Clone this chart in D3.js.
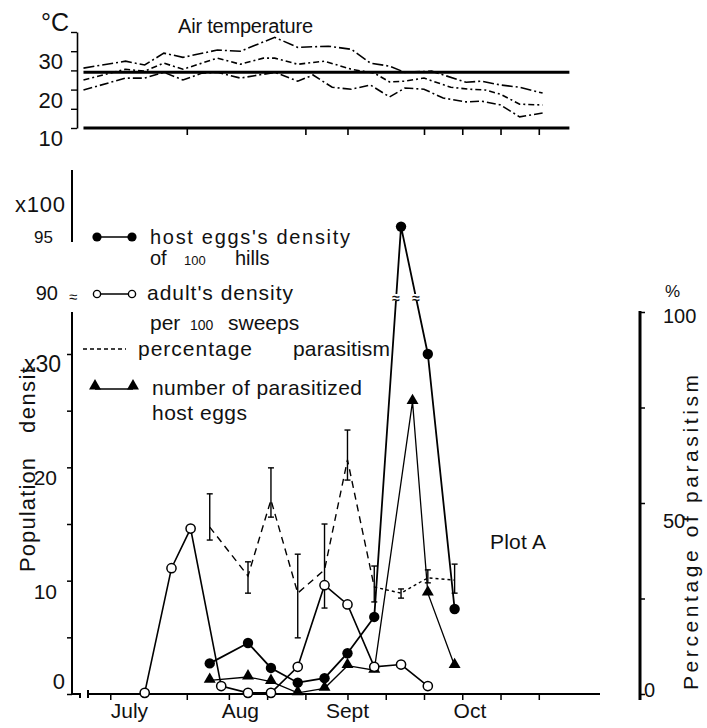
<!DOCTYPE html>
<html lang="en">
  <head>
    <meta charset="utf-8">
    <script src="https://cdn.jsdelivr.net/npm/d3@7"></script>
    <style>
      body { margin: 0; background: #fff; }
      svg text { font-family: "Liberation Sans", Arial, sans-serif; fill: #111; }
    </style>
  </head>
  <body>
    <svg id="chart" width="707" height="728"></svg>
    <script>

      var parse = d3.timeParse("%m-%d");

      // air temperature, top panel (max / mean / min)
      var maxDates = ["06-24","07-05","07-10","07-15","07-20","07-29","08-04","08-13","08-19","08-27","09-02","09-07","09-12","09-16","09-23","10-02","10-06","10-11","10-16","10-22"];
      var maxTemp = [25.6,27.4,26.4,29.5,28.4,30.3,30.0,33.6,31.0,31.3,30.5,26.9,26.1,24.5,24.8,21.9,22.2,21.2,20.6,19.1];
      var meanDates = ["06-24","07-05","07-10","07-15","07-20","07-29","08-04","08-10","08-13","08-19","08-26","09-02","09-08","09-12","09-16","09-21","09-28","10-03","10-07","10-11","10-16","10-22"];
      var meanTemp = [22.5,25.3,24.8,26.9,25.3,28.2,26.6,28.2,28.2,26.6,27.4,25.3,24.3,22.0,22.2,23.0,20.6,20.1,19.9,18.8,16.2,16.0];
      var minDates = ["06-24","07-05","07-10","07-15","07-20","07-25","07-29","08-04","08-13","08-19","08-23","08-28","09-02","09-07","09-12","09-16","09-21","09-26","10-02","10-06","10-11","10-16","10-22"];
      var minTemp = [19.9,23.0,23.0,24.5,22.5,24.3,24.5,23.0,24.5,22.2,23.8,20.6,20.1,21.2,18.1,20.4,20.1,17.8,16.8,17.0,16.0,12.9,13.9];
      var refTemp = 24.5;

      // population densities, main panel
      var adultDates = ["07-10","07-17","07-22","07-30","08-06","08-12","08-19","08-26","09-01","09-08","09-15","09-22"];
      var adults = [0.1,11.1,14.6,0.7,0.1,0.1,2.4,9.6,7.9,2.4,2.6,0.7];
      var hostDates = ["07-27","08-06","08-12","08-19","08-26","09-01","09-08","09-15","09-22","09-29"];
      var hostEggs = [2.7,4.5,2.3,1.0,1.4,3.6,6.8,95.3,30.0,7.5];
      var paraDates = ["07-27","08-06","08-12","08-19","08-26","09-01","09-08","09-18","09-22","09-29"];
      var parasitized = [1.2,1.5,1.1,0.1,0.5,2.5,2.1,25.8,8.9,2.5];

      // percentage parasitism with range bars
      var pctDates = ["07-27","08-06","08-12","08-19","08-26","09-01","09-08","09-15","09-22","09-29"];
      var pct = [43.7,30.9,50.8,26.4,32.5,61.3,28.0,26.4,30.4,29.8];
      var pctLow = [40.3,26.4,46.3,14.7,22.5,56.0,24.1,25.1,29.1,26.4];
      var pctHigh = [52.4,34.6,59.2,36.6,44.5,69.1,33.5,27.5,32.5,34.0];

      // axes
      var xTicks = ["07-01","07-21","08-01","08-11","08-21","09-01","09-11","09-21","10-01","10-11","10-21"];
      var topTicks = ["07-21","08-21","09-01","09-21","10-01","10-11","10-21"];
      var months = ["July","Aug","Sept","Oct"];
      var monthAt = ["07-06","08-04","09-01","10-03"];
      var tempTicks = [10,15,20,25,30,35];
      var tempLabels = [30,20,10];
      var yTicks = [0,5,10,15,20,25,30];
      var yLabelValues = [10,20,30];
      var yLabels = ["10","20","x30"];
      var hiLabelValues = [95,90];
      var pctTicks = [0,25,50,75,100];
      var pctLabels = [100,50];

      var svg = d3.select("#chart");

      var x = d3.scaleTime()
        .domain([parse("06-21"), parse("11-06")])
        .range([72, 600]);
      var yT = d3.scaleLinear().domain([10, 35]).range([128, 32]);
      var y = d3.scaleLinear().domain([0, 30]).range([694, 354]);
      var yHi = d3.scaleLinear().domain([90, 100]).range([287, 173]);
      var yP = d3.scaleLinear().domain([0, 100]).range([694, 312]);

      function yy(v) { return v > 60 ? yHi(v) : y(v); }

      function zip(dates, vals) {
        return dates.map(function(d, i) { return {date: parse(d), v: vals[i]}; });
      }

      // ---------- top panel: air temperature ----------
      var tp = svg.append("g");

      tp.append("g")
        .attr("transform", "translate(77,0)")
        .call(d3.axisLeft(yT).tickValues(tempTicks).tickSize(6).tickSizeOuter(0).tickFormat(""))
        .call(function(g) {
          g.select(".domain").attr("stroke-width", 1.6);
          g.selectAll(".tick line").attr("stroke-width", 1.4);
        });

      tp.selectAll("text.tlab")
        .data(tempLabels)
        .enter().append("text")
          .attr("class", "tlab")
          .attr("x", 63)
          .attr("y", function(d) { return yT(d) + 18; })
          .attr("text-anchor", "end")
          .style("font-size", "22px")
          .text(function(d) { return d; });

      tp.append("text")
        .attr("x", 41).attr("y", 31)
        .style("font-size", "25px")
        .text("°C");

      tp.append("text")
        .attr("x", 178).attr("y", 33)
        .attr("textLength", 135)
        .style("font-size", "20px")
        .text("Air temperature");

      tp.append("g")
        .attr("transform", "translate(0," + yT(10) + ")")
        .call(d3.axisBottom(x).tickValues(topTicks.map(parse)).tickSize(7).tickFormat(""))
        .call(function(g) {
          g.select(".domain").remove();
          g.selectAll(".tick line").attr("stroke-width", 1.6);
        });

      tp.append("line")
        .attr("x1", x(parse("06-24"))).attr("x2", x(parse("10-29")))
        .attr("y1", yT(10)).attr("y2", yT(10))
        .attr("stroke", "#000").attr("stroke-width", 3);

      tp.append("line")
        .attr("x1", x(parse("06-24"))).attr("x2", x(parse("10-29")))
        .attr("y1", yT(refTemp)).attr("y2", yT(refTemp))
        .attr("stroke", "#000").attr("stroke-width", 3);

      var tline = d3.line()
        .x(function(d) { return x(d.date); })
        .y(function(d) { return yT(d.v); });

      [
        {data: zip(maxDates, maxTemp), dash: "11,3,2,3"},
        {data: zip(meanDates, meanTemp), dash: "6,3,2,3"},
        {data: zip(minDates, minTemp), dash: "9,3,2,3"}
      ].forEach(function(s) {
        tp.append("path")
          .datum(s.data)
          .attr("d", tline)
          .attr("fill", "none")
          .attr("stroke", "#000")
          .attr("stroke-width", 1.6)
          .attr("stroke-dasharray", s.dash);
      });

      // ---------- main panel ----------
      var main = svg.append("g");

      // left axis, broken
      main.append("line")
        .attr("x1", 72).attr("x2", 72).attr("y1", 312).attr("y2", 694)
        .attr("stroke", "#000").attr("stroke-width", 2);
      main.append("line")
        .attr("x1", 72).attr("x2", 72).attr("y1", 170).attr("y2", 242)
        .attr("stroke", "#000").attr("stroke-width", 2);
      main.append("text")
        .attr("x", 73).attr("y", 302)
        .attr("text-anchor", "middle")
        .style("font-size", "15px")
        .text("≈");

      main.append("g")
        .attr("transform", "translate(72,0)")
        .call(d3.axisLeft(y).tickValues(yTicks).tickSize(5).tickFormat(""))
        .call(function(g) {
          g.select(".domain").remove();
          g.selectAll(".tick line").attr("stroke-width", 1.5);
        });

      main.append("text")
        .attr("x", 65).attr("y", 689)
        .attr("text-anchor", "end")
        .style("font-size", "22px")
        .text("0");

      main.selectAll("text.ylab")
        .data(yLabelValues)
        .enter().append("text")
          .attr("class", "ylab")
          .attr("x", function(d, i) { return i == 2 ? 61 : 57; })
          .attr("y", function(d) { return y(d) + 18; })
          .attr("text-anchor", "end")
          .style("font-size", function(d, i) { return i == 2 ? "23px" : "21px"; })
          .text(function(d, i) { return yLabels[i]; });

      main.append("text")
        .attr("x", 15).attr("y", 212)
        .attr("textLength", 50)
        .style("font-size", "22px")
        .text("x100");

      main.selectAll("text.hlab")
        .data(hiLabelValues)
        .enter().append("text")
          .attr("class", "hlab")
          .attr("x", function(d) { return d == 95 ? 53 : 58; })
          .attr("y", function(d) { return yHi(d) + 13; })
          .attr("text-anchor", "end")
          .style("font-size", function(d) { return d == 95 ? "17px" : "20px"; })
          .text(function(d) { return d; });

      main.append("text")
        .attr("transform", "translate(35,572) rotate(-90)")
        .attr("textLength", 114)
        .style("font-size", "22px")
        .text("Population");
      main.append("text")
        .attr("transform", "translate(35,433) rotate(-90)")
        .attr("textLength", 66)
        .style("font-size", "22px")
        .text("densit");

      // bottom axis with a small break near the origin
      main.append("path")
        .attr("d", "M72,694H80V698M88,690V698M88,694H600")
        .attr("fill", "none")
        .attr("stroke", "#000").attr("stroke-width", 2);

      main.append("g")
        .attr("transform", "translate(0,694)")
        .call(d3.axisBottom(x).tickValues(xTicks.map(parse)).tickSize(6).tickFormat(""))
        .call(function(g) {
          g.select(".domain").remove();
          g.selectAll(".tick line").attr("stroke-width", 1.5);
        });

      main.selectAll("text.month")
        .data(months)
        .enter().append("text")
          .attr("class", "month")
          .attr("x", function(d, i) { return x(parse(monthAt[i])); })
          .attr("y", 718)
          .attr("text-anchor", "middle")
          .style("font-size", "21px")
          .text(function(d) { return d; });

      // right axis: percentage
      main.append("line")
        .attr("x1", 640).attr("x2", 640).attr("y1", 311).attr("y2", 700)
        .attr("stroke", "#000").attr("stroke-width", 3);
      main.append("g")
        .attr("transform", "translate(640,0)")
        .call(d3.axisRight(yP).tickValues(pctTicks).tickSize(5).tickFormat(""))
        .call(function(g) {
          g.select(".domain").remove();
          g.selectAll(".tick line").attr("stroke-width", 1.5);
        });
      main.selectAll("text.plab")
        .data(pctLabels)
        .enter().append("text")
          .attr("class", "plab")
          .attr("x", 663)
          .attr("y", function(d) { return yP(d) + (d == 100 ? 11 : 25); })
          .style("font-size", "20px")
          .text(function(d) { return d; });
      main.append("text")
        .attr("x", 644).attr("y", 697)
        .style("font-size", "20px")
        .text("0");
      main.append("text")
        .attr("x", 665).attr("y", 297)
        .style("font-size", "17px")
        .text("%");
      main.append("text")
        .attr("transform", "translate(698,690) rotate(-90)")
        .attr("textLength", 315)
        .style("font-size", "21px")
        .text("Percentage of parasitism");

      main.append("text")
        .attr("x", 490).attr("y", 549)
        .attr("textLength", 56)
        .style("font-size", "21px")
        .text("Plot A");

      // percentage parasitism: dashed line + range bars
      var pctData = pctDates.map(function(d, i) {
        return {date: parse(d), v: pct[i], lo: pctLow[i], hi: pctHigh[i]};
      });
      var pline = d3.line()
        .x(function(d) { return x(d.date); })
        .y(function(d) { return yP(d.v); });

      main.append("path")
        .datum(pctData.slice(0, 7))
        .attr("d", pline)
        .attr("fill", "none").attr("stroke", "#000")
        .attr("stroke-width", 1.4).attr("stroke-dasharray", "7,5");
      main.append("path")
        .datum(pctData.slice(6))
        .attr("d", pline)
        .attr("fill", "none").attr("stroke", "#000")
        .attr("stroke-width", 1.4).attr("stroke-dasharray", "3,3");

      var bars = main.selectAll("g.bar")
        .data(pctData)
        .enter().append("g")
          .attr("class", "bar")
          .attr("stroke", "#000")
          .attr("stroke-width", 1.4);
      bars.append("line")
        .attr("x1", function(d) { return x(d.date); })
        .attr("x2", function(d) { return x(d.date); })
        .attr("y1", function(d) { return yP(d.lo); })
        .attr("y2", function(d) { return yP(d.hi); });
      bars.append("line")
        .attr("x1", function(d) { return x(d.date) - 3; })
        .attr("x2", function(d) { return x(d.date) + 3; })
        .attr("y1", function(d) { return yP(d.lo); })
        .attr("y2", function(d) { return yP(d.lo); });
      bars.append("line")
        .attr("x1", function(d) { return x(d.date) - 3; })
        .attr("x2", function(d) { return x(d.date) + 3; })
        .attr("y1", function(d) { return yP(d.hi); })
        .attr("y2", function(d) { return yP(d.hi); });

      // series lines
      var line = d3.line()
        .x(function(d) { return x(d.date); })
        .y(function(d) { return yy(d.v); });

      var adultData = zip(adultDates, adults),
          hostData = zip(hostDates, hostEggs),
          paraData = zip(paraDates, parasitized);

      main.append("path").datum(paraData).attr("d", line)
        .attr("fill", "none").attr("stroke", "#000").attr("stroke-width", 1.3);
      main.append("path").datum(adultData).attr("d", line)
        .attr("fill", "none").attr("stroke", "#000").attr("stroke-width", 1.6);
      main.append("path").datum(hostData).attr("d", line)
        .attr("fill", "none").attr("stroke", "#000").attr("stroke-width", 1.8);

      // break marks where the host-egg line crosses the axis gap
      var breakY = 298;
      hostData.forEach(function(d, i) {
        var n = hostData[i + 1];
        if (!n) return;
        var y0 = yy(d.v), y1 = yy(n.v);
        if ((y0 - breakY) * (y1 - breakY) < 0 && (d.v > 60 || n.v > 60)) {
          var t = (breakY - y0) / (y1 - y0),
              bx = x(d.date) + t * (x(n.date) - x(d.date));
          main.append("rect")
            .attr("x", bx - 5).attr("y", breakY - 4)
            .attr("width", 10).attr("height", 7)
            .attr("fill", "#fff");
          main.append("text")
            .attr("x", bx).attr("y", breakY + 5)
            .attr("text-anchor", "middle")
            .style("font-size", "14px")
            .style("font-weight", "bold")
            .text("≈");
        }
      });

      var tri = d3.symbol().type(d3.symbolTriangle).size(62);

      main.selectAll("path.tri")
        .data(paraData)
        .enter().append("path")
          .attr("class", "tri")
          .attr("d", tri)
          .attr("transform", function(d) { return "translate(" + x(d.date) + "," + (yy(d.v) - 1) + ")"; })
          .attr("fill", "#000");

      main.selectAll("circle.adult")
        .data(adultData)
        .enter().append("circle")
          .attr("class", "adult")
          .attr("cx", function(d) { return x(d.date); })
          .attr("cy", function(d) { return yy(d.v); })
          .attr("r", 4.6)
          .attr("fill", "#fff")
          .attr("stroke", "#000")
          .attr("stroke-width", 1.5);

      main.selectAll("circle.host")
        .data(hostData)
        .enter().append("circle")
          .attr("class", "host")
          .attr("cx", function(d) { return x(d.date); })
          .attr("cy", function(d) { return yy(d.v); })
          .attr("r", 5.2)
          .attr("fill", "#000");

      // ---------- legend ----------
      var lg = svg.append("g").attr("class", "legend");

      lg.append("line").attr("x1", 97).attr("x2", 132).attr("y1", 237).attr("y2", 237)
        .attr("stroke", "#000").attr("stroke-width", 1.6);
      lg.selectAll("circle.lh").data([97, 132]).enter().append("circle")
        .attr("cx", function(d) { return d; }).attr("cy", 237).attr("r", 4.6).attr("fill", "#000");
      lg.append("text").attr("x", 150).attr("y", 244).attr("textLength", 200)
        .style("font-size", "20px").text("host eggs's density");
      var l2 = lg.append("text").attr("y", 265).style("font-size", "20px");
      l2.append("tspan").attr("x", 150).text("of");
      l2.append("tspan").attr("x", 184).style("font-size", "13px").text("100");
      l2.append("tspan").attr("x", 235).text("hills");

      lg.append("line").attr("x1", 97).attr("x2", 132).attr("y1", 294).attr("y2", 294)
        .attr("stroke", "#000").attr("stroke-width", 1.4);
      lg.selectAll("circle.la").data([97, 132]).enter().append("circle")
        .attr("cx", function(d) { return d; }).attr("cy", 294).attr("r", 3.6)
        .attr("fill", "#fff").attr("stroke", "#000").attr("stroke-width", 1.4);
      lg.append("text").attr("x", 147).attr("y", 300).attr("textLength", 146)
        .style("font-size", "21px").text("adult's density");
      var l4 = lg.append("text").attr("y", 330).style("font-size", "21px");
      l4.append("tspan").attr("x", 150).text("per");
      l4.append("tspan").attr("x", 190).style("font-size", "14px").text("100");
      l4.append("tspan").attr("x", 228).text("sweeps");

      lg.append("line").attr("x1", 83).attr("x2", 126).attr("y1", 349).attr("y2", 349)
        .attr("stroke", "#000").attr("stroke-width", 1.4).attr("stroke-dasharray", "4,3");
      lg.append("text").attr("x", 138).attr("y", 356).attr("textLength", 114)
        .style("font-size", "21px").text("percentage");
      lg.append("text").attr("x", 293).attr("y", 356).attr("textLength", 97)
        .style("font-size", "21px").text("parasitism");

      lg.append("line").attr("x1", 95).attr("x2", 133).attr("y1", 389).attr("y2", 389)
        .attr("stroke", "#000").attr("stroke-width", 1.4);
      lg.selectAll("path.lt").data([95, 133]).enter().append("path")
        .attr("d", tri)
        .attr("transform", function(d) { return "translate(" + d + ",386)"; })
        .attr("fill", "#000");
      lg.append("text").attr("x", 152).attr("y", 395).attr("textLength", 210)
        .style("font-size", "21px").text("number of parasitized");
      lg.append("text").attr("x", 152).attr("y", 420).attr("textLength", 95)
        .style("font-size", "21px").text("host eggs");

    </script>
  </body>
</html>
